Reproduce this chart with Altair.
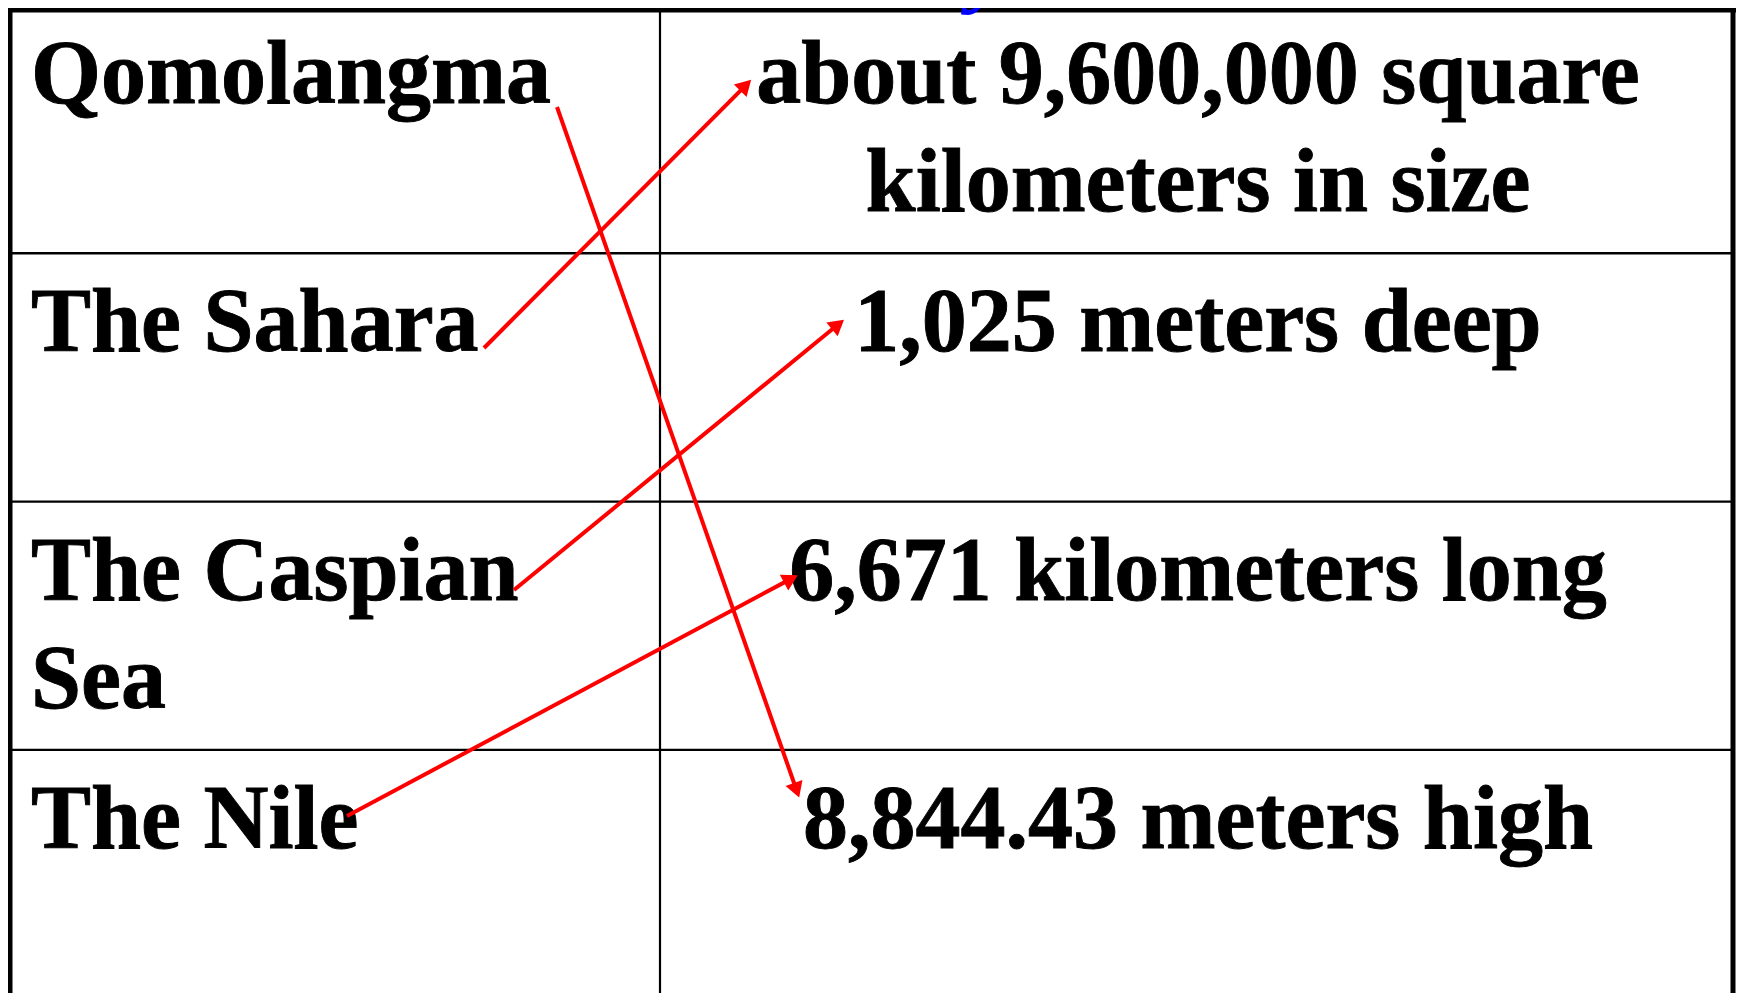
import math
import altair as alt
import pandas as pd

# ---------------- data ----------------
left_items = [["Qomolangma"], ["The Sahara"], ["The Caspian", "Sea"], ["The Nile"]]
right_items = [
    ["about 9,600,000 square", "kilometers in size"],
    ["1,025 meters deep"],
    ["6,671 kilometers long"],
    ["8,844.43 meters high"],
]
# (left item index, right item index) pairs joined by arrows
matches = [(0, 3), (1, 0), (2, 1), (3, 2)]
title_fragment = ["y"]

# ---------------- layout (page pixel canvas) ----------------
W, H = 1728, 985
X0, Y0 = 8, 8
ROW_TOP = 5.0
ROW_H = 248.3
N_ROWS = 4
LEFT_X = 31
SPLIT_X = 660
RIGHT_X = 1733
RIGHT_CX = 1198
BASELINE = 98
LINE_H = 108
FONT = "Liberation Serif"
FSIZE = 90
RED = "#ff0000"
HEAD_SIZE = 320

# hand-drawn arrow anchor points
arrow_from = {0: (557, 107), 1: (484, 348), 2: (514, 590), 3: (347, 816)}
arrow_to = {0: (753, 78), 1: (846, 318), 2: (800, 574), 3: (800, 800)}


def row_top(r):
    return ROW_TOP + ROW_H * r


# table frame segments
frame = []
frame.append(dict(x=X0, y=10, x2=RIGHT_X + 3, y2=10, w=5))            # top border
frame.append(dict(x=10, y=X0, x2=10, y2=Y0 + H, w=5))                 # left border
frame.append(dict(x=RIGHT_X, y=X0, x2=RIGHT_X, y2=Y0 + H, w=5))       # right border
frame.append(dict(x=SPLIT_X, y=X0, x2=SPLIT_X, y2=Y0 + H, w=2.2))     # column split
for r in range(1, N_ROWS):
    yy = row_top(r)
    frame.append(dict(x=X0, y=yy, x2=RIGHT_X, y2=yy, w=2.4))
frame_df = pd.DataFrame(frame)

# text rows
left_rows, right_rows = [], []
for r, lines in enumerate(left_items):
    for k, t in enumerate(lines):
        left_rows.append(dict(x=LEFT_X, y=row_top(r) + BASELINE + k * LINE_H, t=t))
for r, lines in enumerate(right_items):
    for k, t in enumerate(lines):
        right_rows.append(dict(x=RIGHT_CX, y=row_top(r) + BASELINE + k * LINE_H, t=t))
left_df = pd.DataFrame(left_rows)
right_df = pd.DataFrame(right_rows)

title_df = pd.DataFrame([dict(x=990, y=-4, t=title_fragment[0])])

# arrows
r_head = math.sqrt(HEAD_SIZE) / 2
tip_off = 2 * r_head * math.tan(math.radians(30))
shafts, heads = [], []
for li, ri in matches:
    sx, sy = arrow_from[li]
    ex, ey = arrow_to[ri]
    dx, dy = ex - sx, ey - sy
    L = math.hypot(dx, dy)
    ux, uy = dx / L, dy / L
    cx, cy = ex - ux * tip_off, ey - uy * tip_off
    ang = math.degrees(math.atan2(ux, -uy)) % 360
    shafts.append(dict(x=sx, y=sy, x2=cx, y2=cy))
    heads.append(dict(x=cx, y=cy, a=ang))
shaft_df = pd.DataFrame(shafts)
head_df = pd.DataFrame(heads)

xs = alt.Scale(domain=[X0, X0 + W], nice=False, zero=False)
ys = alt.Scale(domain=[Y0, Y0 + H], nice=False, zero=False, reverse=True)
X = alt.X("x:Q", scale=xs, axis=None)
Y = alt.Y("y:Q", scale=ys, axis=None)

frame_layer = alt.Chart(frame_df).mark_rule(color="black").encode(
    x=X, y=Y, x2="x2:Q", y2="y2:Q",
    strokeWidth=alt.StrokeWidth("w:Q", scale=None),
)

text_style = dict(baseline="alphabetic", font=FONT, fontWeight="bold",
                  fontSize=FSIZE, color="black", stroke="black", strokeWidth=0.9)

left_layer = alt.Chart(left_df).mark_text(align="left", **text_style).encode(
    x=X, y=Y, text="t:N")

right_layer = alt.Chart(right_df).mark_text(align="center", **text_style).encode(
    x=X, y=Y, text="t:N")

title_layer = alt.Chart(title_df).mark_text(
    align="center", baseline="alphabetic", font=FONT, fontWeight="bold",
    fontStyle="italic", fontSize=FSIZE, color="#0000ff",
).encode(x=X, y=Y, text="t:N")

shaft_layer = alt.Chart(shaft_df).mark_rule(color=RED, strokeWidth=4).encode(
    x=X, y=Y, x2="x2:Q", y2="y2:Q"
)

head_layer = alt.Chart(head_df).mark_point(
    shape="triangle-up", filled=True, color=RED, opacity=1, size=HEAD_SIZE,
).encode(x=X, y=Y, angle=alt.Angle("a:Q", scale=None))

chart = alt.layer(
    frame_layer, title_layer, left_layer, right_layer, shaft_layer, head_layer
).properties(
    width=W, height=H, padding=0, autosize=alt.AutoSizeParams(type="none"),
    background="white",
).configure_view(stroke=None)

chart.save("out.html", embed_options={"renderer": "svg", "actions": False})
